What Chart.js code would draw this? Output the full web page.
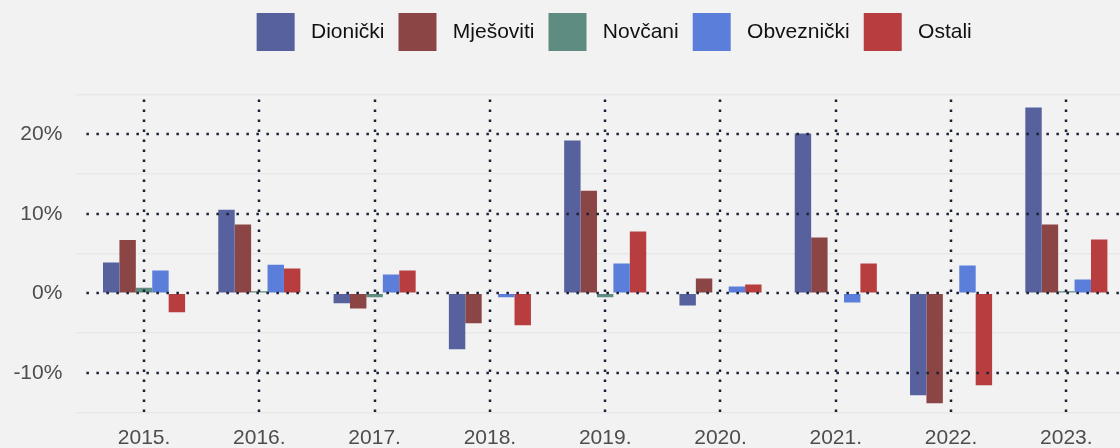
<!DOCTYPE html>
<html>
<head>
<meta charset="utf-8">
<script src="https://cdn.jsdelivr.net/npm/chart.js@4"></script>
<style>
  html, body { margin:0; padding:0; background:#f2f2f2; overflow:hidden; }
  #wrap { width:1124px; height:448px; }
</style>
</head>
<body>
<div id="wrap"><canvas id="chart"></canvas></div>
<script>
  // ---------- data ----------
  const years = ["2015.", "2016.", "2017.", "2018.", "2019.", "2020.", "2021.", "2022.", "2023."];
  const dionicki   = [3.86, 10.5, -1.26, -7.04, 19.2, -1.55, 20.1, -12.83, 23.36];
  const mjesoviti  = [6.7, 8.64, -1.92, -3.77, 12.9, 1.85, 7.0, -13.84, 8.64];
  const novcani    = [0.68, 0.25, -0.5, 0.1, -0.5, 0.0, 0.0, 0.0, 0.25];
  const obveznicki = [2.86, 3.6, 2.36, -0.5, 3.74, 0.84, -1.17, 3.48, 1.72];
  const ostali     = [-2.39, 3.1, 2.86, -4.03, 7.76, 1.09, 3.74, -11.57, 6.75];
  const majorTicks = [-10, 0, 10, 20];

  const series = [
    { label:"Dionički",   data:dionicki,   color:"#56619e" },
    { label:"Mješoviti",  data:mjesoviti,  color:"#8b4545" },
    { label:"Novčani",    data:novcani,    color:"#5e8c80" },
    { label:"Obveznički", data:obveznicki, color:"#5a7ed9" },
    { label:"Ostali",     data:ostali,     color:"#b83d3f" }
  ];

  const FONT = "'Liberation Sans', Arial, sans-serif";
  const DOT = "#1b2236";

  // legend spacing + dotted grid drawn over the bars
  const dottedGrid = {
    id:"dottedGrid",
    beforeLayout(chart){
      const lg = chart.legend;
      if(lg && !lg._fixed){
        const fit = lg.fit.bind(lg);
        lg.fit = function(){ fit(); this.height = 95.5; };
        lg._fixed = true;
      }
    },
    afterLayout(chart){
      const lg = chart.legend;
      if(lg){ lg.left += 9; lg.right += 9; }
    },
    afterDatasetsDraw(chart){
      const {ctx, chartArea, scales} = chart;
      ctx.save();
      ctx.strokeStyle = DOT;
      ctx.lineWidth = 2.5;
      ctx.setLineDash([2.5, 7.5]);
      majorTicks.forEach(v=>{
        const y = Math.round(scales.y.getPixelForValue(v));
        ctx.beginPath();
        ctx.moveTo(chartArea.left, y);
        ctx.lineTo(chartArea.right, y);
        ctx.stroke();
      });
      years.forEach((_, i)=>{
        const x = Math.round(scales.x.getPixelForValue(i));
        ctx.beginPath();
        ctx.moveTo(x, chartArea.top + 5);
        ctx.lineTo(x, chartArea.bottom + 7);
        ctx.stroke();
      });
      ctx.restore();
    }
  };

  new Chart(document.getElementById("chart"), {
    type:"bar",
    data:{
      labels: years,
      datasets: series.map(s=>({
        label: s.label,
        data: s.data,
        backgroundColor: s.color,
        borderWidth: 0,
        barPercentage: 1,
        categoryPercentage: 0.712
      }))
    },
    options:{
      responsive:true,
      maintainAspectRatio:false,
      animation:false,
      layout:{ padding:{ top:-1, left:0, right:0, bottom:0 } },
      plugins:{
        tooltip:{ enabled:false },
        legend:{
          position:"top",
          fullSize:false,
          labels:{
            boxWidth:38,
            boxHeight:38,
            padding:14,
            color:"#111",
            font:{ family:FONT, size:21 },
            generateLabels(chart){
              const items = Chart.defaults.plugins.legend.labels.generateLabels(chart);
              items.forEach(it=>{ it.text = " " + it.text; it.lineWidth = 0; });
              return items;
            }
          }
        }
      },
      scales:{
        x:{
          grid:{ display:false, drawTicks:false },
          border:{ display:false },
          ticks:{ color:"#4d4d4d", padding:13, font:{ family:FONT, size:21 }, maxRotation:0 },
          afterFit(s){ s.height = 35.5; }
        },
        y:{
          min:-15, max:25,
          border:{ display:false },
          grid:{
            color: c => (c.tick && c.tick.value % 10 === 0) ? "rgba(0,0,0,0)" : "#e8e8e8",
            tickColor: c => (c.tick && c.tick.value % 10 === 0) ? "rgba(0,0,0,0)" : "#e8e8e8",
            lineWidth:1.5,
            tickLength:11
          },
          ticks:{
            stepSize:5,
            padding:13,
            color:"#4d4d4d",
            font:{ family:FONT, size:21 },
            callback: v => (v % 10 === 0) ? v + "%" : ""
          },
          afterFit(s){ s.width = 86.4; }
        }
      }
    },
    plugins:[dottedGrid]
  });
</script>
</body>
</html>
